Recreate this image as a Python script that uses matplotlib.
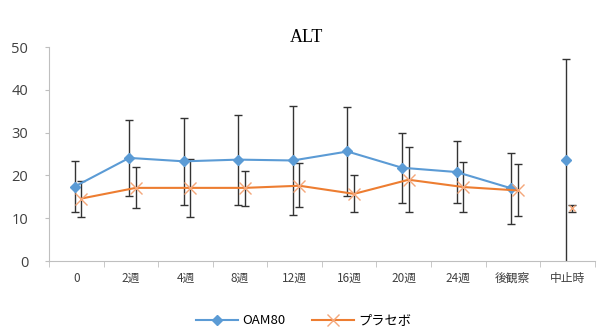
import numpy as np
import matplotlib
matplotlib.use("Agg")
import matplotlib.pyplot as plt

plt.rcParams['font.family'] = ['Noto Sans CJK JP', 'DejaVu Sans']

categories = ['0', '2週', '4週', '8週', '12週', '16週', '20週', '24週', '後観察', '中止時']

oam_mean = [17.4, 24.1, 23.3, 23.7, 23.5, 25.6, 21.8, 20.8, 17.0, 23.5]
oam_hi = [23.3, 32.9, 33.5, 34.1, 36.2, 36.0, 30.0, 28.0, 25.2, 47.2]
oam_lo = [11.4, 15.3, 13.2, 13.2, 10.7, 15.1, 13.6, 13.6, 8.6, -0.2]

pla_mean = [14.6, 17.1, 17.1, 17.1, 17.6, 15.7, 19.0, 17.3, 16.5, 12.4]
pla_hi = [18.8, 22.0, 23.9, 21.1, 23.0, 20.0, 26.6, 23.1, 22.7, 13.2]
pla_lo = [10.4, 12.5, 10.3, 12.9, 12.6, 11.4, 11.4, 11.4, 10.5, 11.4]

blue = '#5B9BD5'
orange = '#ED7D31'
ecol = '#333333'

fig = plt.figure(figsize=(6.07, 3.36), dpi=100)
ax = fig.add_axes([0.0807, 0.223, 0.899, 0.637])

x = np.arange(len(categories))
xb = x - 0.03
xo = x + 0.09

oam_mean = np.array(oam_mean)
pla_mean = np.array(pla_mean)
oam_err = [oam_mean - np.array(oam_lo), np.array(oam_hi) - oam_mean]
pla_err = [pla_mean - np.array(pla_lo), np.array(pla_hi) - pla_mean]

# error bars
ax.errorbar(xb, oam_mean, yerr=oam_err, fmt='none', ecolor=ecol,
            elinewidth=1, capsize=3, capthick=1, zorder=2)
ax.errorbar(xo, pla_mean, yerr=pla_err, fmt='none', ecolor=ecol,
            elinewidth=1, capsize=3, capthick=1, zorder=2)

# lines (中止時 not joined)
ax.plot(xb[:9], oam_mean[:9], color=blue, lw=1.5, marker='D', ms=5,
        mfc=blue, mec=blue, zorder=3, label='OAM80')
ax.plot(xb[9:], oam_mean[9:], color=blue, lw=0, marker='D', ms=5, zorder=3)
ax.plot(xo[:9], pla_mean[:9], color=orange, lw=1.5, marker='x', ms=8,
        mew=1, mec='#F4A77A', zorder=3, label='プラセボ')
ax.plot(xo[9:], pla_mean[9:], color=orange, lw=0, marker='x', ms=4,
        mew=1, mec='#F4A77A', zorder=3)

ax.set_xlim(-0.5, len(categories) - 0.5)
ax.set_ylim(0, 50)
ax.set_yticks(range(0, 51, 10))
ax.set_xticks(x)
ax.set_xticklabels(categories, fontsize=8.5, color='#404040')
ax.set_xticks(np.arange(-0.5, len(categories)), minor=True)
ax.tick_params(axis='x', which='major', length=0, pad=8)
ax.tick_params(axis='x', which='minor', length=4, color='#BFBFBF')
ax.tick_params(axis='y', length=3, color='#BFBFBF', labelsize=10.5,
               labelcolor='#404040', pad=12)
for lab in ax.get_yticklabels():
    lab.set_family(['Open Sans', 'DejaVu Sans'])

for s in ['top', 'right']:
    ax.spines[s].set_visible(False)
ax.spines['left'].set_color('#BFBFBF')
ax.spines['bottom'].set_color('#BFBFBF')

fig.text(0.505, 0.888, 'ALT', ha='center', va='center', fontsize=13,
         family=['Liberation Serif'])

fig.legend(loc='center', bbox_to_anchor=(0.5, 0.045), ncol=2, frameon=False,
           fontsize=9.5, handlelength=3.2, columnspacing=2.0, handletextpad=0.3)

fig.savefig('out.png', dpi=100)
